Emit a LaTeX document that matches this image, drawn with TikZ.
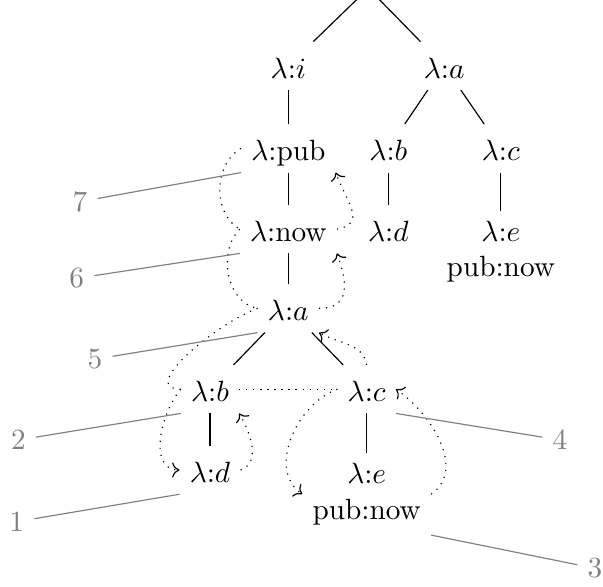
\documentclass[tikz,border=0pt]{standalone}
\usepackage{tikz}
\usepackage{xcolor}
\usepackage{amsmath}
\usetikzlibrary{arrows.meta, calc}
\definecolor{notegray}{RGB}{128,128,128}

\begin{document}
\begin{tikzpicture}[
    term/.style={text height=9pt, text depth=0.5pt},
    pair/.style={align=center},
    walk/.style={dotted},
    num/.style={text=notegray},
    note/.style={draw=notegray}
  ]
    \useasboundingbox (0,0) rectangle (7.236,-7.032);

    % the term tree
    \node (root) at (4.42,0.14) {};
    \node[term] (i) at (3.46,-0.79) {$\lambda{:}i$};
    \node[term] (sa) at (5.33,-0.79) {$\lambda{:}a$};
    \node[term] (pub) at (3.46,-1.78) {$\lambda$:pub};
    \node[term] (sb) at (4.66,-1.78) {$\lambda{:}b$};
    \node[term] (sc) at (6.01,-1.78) {$\lambda{:}c$};
    \node[term] (now) at (3.46,-2.75) {$\lambda$:now};
    \node[term] (sd) at (4.66,-2.75) {$\lambda{:}d$};
    \node[pair] (se) at (6.01,-3.02) {$\lambda{:}e$\\pub:now};
    \node[term] (a) at (3.46,-3.70) {$\lambda{:}a$};
    \node[term] (b) at (2.52,-4.67) {$\lambda{:}b$};
    \node[term] (c) at (4.40,-4.67) {$\lambda{:}c$};
    \node[term] (d) at (2.52,-5.64) {$\lambda{:}d$};
    \node[pair] (e) at (4.40,-5.93) {$\lambda{:}e$\\pub:now};

    \foreach \p/\q in {root/i, root/sa, i/pub, pub/now, now/a, a/b, a/c,
                       b/d, c/e, sa/sb, sa/sc, sb/sd, sc/se}
      \draw (\p) -- (\q);

    % walk down the left side, back up the right side
    \draw[walk] (pub.west) to[out=210,in=150] (now.west);
    \draw[walk] (now.west) to[out=225,in=170] (a.west);
    \draw[walk] (a.west) to[out=200,in=180] (b.west);
    \draw[walk,->] (b.west) to[out=230,in=180] (d.west);
    \draw[walk,->] (d.east) to[out=20,in=-60] (b.south east);
    \draw[walk] (b.east) -- (c.west);
    \draw[walk,->] (c.west) to[out=200,in=145] (e.west);
    \draw[walk,->] (e.east) to[out=35,in=-35] (c.east);
    \draw[walk,->] (c.north) to[out=100,in=-30] (a.south east);
    \draw[walk,->] (a.east) to[out=0,in=-70,looseness=1.4] (now.south east);
    \draw[walk,->] (now.east) to[out=10,in=-70,looseness=1.4] (pub.south east);

    % visit order
    \node[num] (n1) at (0.20,-6.26) {1};
    \node[num] (n2) at (0.22,-5.28) {2};
    \node[num] (n3) at (7.14,-6.82) {3};
    \node[num] (n4) at (6.72,-5.28) {4};
    \node[num] (n5) at (1.14,-4.31) {5};
    \node[num] (n6) at (0.92,-3.34) {6};
    \node[num] (n7) at (0.96,-2.42) {7};

    \draw[note] (n1) -- (d.south west);
    \draw[note] (n2) -- (b.south west);
    \draw[note] (n3) -- (e.south east);
    \draw[note] (n4) -- (c.south east);
    \draw[note] (n5) -- (a.south west);
    \draw[note] (n6) -- (now.south west);
    \draw[note] (n7) -- (pub.south west);
  \end{tikzpicture}
\end{document}
